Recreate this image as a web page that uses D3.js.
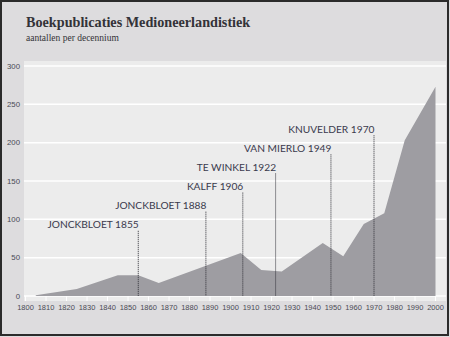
<!DOCTYPE html>
<html>
<head>
<meta charset="utf-8">
<script src="https://cdn.jsdelivr.net/npm/d3@7"></script>
<style>
  html, body { margin: 0; padding: 0; background: #dddcde; }
  svg { display: block; }
</style>
</head>
<body>
<div id="chart"></div>
<script>
// Book publications per decade (values at decade midpoints)
const years = [1805, 1825, 1845, 1855, 1865, 1905, 1915, 1925, 1945, 1955, 1965, 1975, 1985, 2000];
const counts = [1, 9, 27, 27, 17, 56, 34, 32, 69, 52, 94, 108, 203, 273];

// Literary histories marked on the timeline
const markerNames = ['JONCKBLOET', 'JONCKBLOET', 'KALFF', 'TE WINKEL', 'VAN MIERLO', 'KNUVELDER'];
const markerYears = [1855, 1888, 1906, 1922, 1949, 1970];

const xTicks = [1800, 1810, 1820, 1830, 1840, 1850, 1860, 1870, 1880, 1890, 1900,
                1910, 1920, 1930, 1940, 1950, 1960, 1970, 1980, 1990, 2000];
const yTicks = [0, 50, 100, 150, 200, 250, 300];

const width = 450;
const height = 337;

const plot = { left: 24, right: 446, top: 61, bottom: 301 };

const x = d3.scaleLinear().domain([1800, 2000]).range([25.5, 435.5]);
const y = d3.scaleLinear().domain([0, 300]).range([296, 66]);

const svg = d3.select('#chart')
    .append('svg')
    .attr('width', width)
    .attr('height', height);

// frame
svg.append('rect')
    .attr('x', 1).attr('y', 1)
    .attr('width', width - 3).attr('height', height - 3)
    .attr('fill', '#dddcde')
    .attr('stroke', '#2b2b2b')
    .attr('stroke-width', 2);

// title
svg.append('text')
    .attr('x', 26).attr('y', 27)
    .style('font-family', '"Liberation Serif", serif')
    .style('font-weight', 'bold')
    .style('font-size', '14.2px')
    .style('fill', '#333338')
    .text('Boekpublicaties Medioneerlandistiek');

svg.append('text')
    .attr('x', 26).attr('y', 41)
    .style('font-family', '"Liberation Serif", serif')
    .style('font-size', '9.5px')
    .style('fill', '#333338')
    .text('aantallen per decennium');

// plot background
svg.append('rect')
    .attr('x', plot.left).attr('y', plot.top)
    .attr('width', plot.right - plot.left)
    .attr('height', plot.bottom - plot.top)
    .attr('fill', '#ececec');

// horizontal gridlines
svg.append('g')
    .selectAll('line')
    .data(yTicks)
    .join('line')
    .attr('x1', plot.left).attr('x2', plot.right)
    .attr('y1', d => y(d)).attr('y2', d => y(d))
    .attr('stroke', '#ffffff')
    .attr('stroke-width', 1.5);

// area
const points = years.map((yr, i) => [yr, counts[i]]);
const area = d3.area()
    .x(d => x(d[0]))
    .y0(y(0))
    .y1(d => y(d[1]));

svg.append('path')
    .datum(points)
    .attr('d', area)
    .attr('fill', '#9e9da2');

// x ticks below the baseline
svg.append('g')
    .selectAll('line')
    .data(xTicks)
    .join('line')
    .attr('x1', d => x(d)).attr('x2', d => x(d))
    .attr('y1', y(0)).attr('y2', plot.bottom)
    .attr('stroke', '#ffffff')
    .attr('stroke-width', 1);

// axis labels
svg.append('g')
    .selectAll('text')
    .data(yTicks)
    .join('text')
    .attr('x', 20)
    .attr('y', d => y(d) + 2.7)
    .attr('text-anchor', 'end')
    .style('font-family', '"Liberation Sans", sans-serif')
    .style('font-size', '7.8px')
    .style('fill', '#4a4a55')
    .text(d => d);

svg.append('g')
    .selectAll('text')
    .data(xTicks)
    .join('text')
    .attr('x', d => x(d))
    .attr('y', 309.5)
    .attr('text-anchor', 'middle')
    .style('font-family', '"Liberation Sans", sans-serif')
    .style('font-size', '7.5px')
    .style('fill', '#4a4a55')
    .text(d => d);

// markers: stacked labels with dotted drop lines
const labelBase = 228.3;
const labelStep = 19.1;

const markers = svg.append('g')
    .selectAll('g')
    .data(markerYears)
    .join('g');

markers.append('line')
    .attr('x1', d => x(d)).attr('x2', d => x(d))
    .attr('y1', (d, i) => labelBase - i * labelStep + 2.5)
    .attr('y2', y(0))
    .attr('stroke', '#2e2e36')
    .attr('stroke-width', 1)
    .attr('stroke-dasharray', '1,1');

markers.append('text')
    .attr('x', d => x(d) + 0.5)
    .attr('y', (d, i) => labelBase - i * labelStep)
    .attr('text-anchor', 'end')
    .style('font-family', 'Lato, sans-serif')
    .style('font-size', '10.2px')
    .style('fill', '#3a3a4c')
    .text((d, i) => `${markerNames[i]} ${d}`);
</script>
</body>
</html>
